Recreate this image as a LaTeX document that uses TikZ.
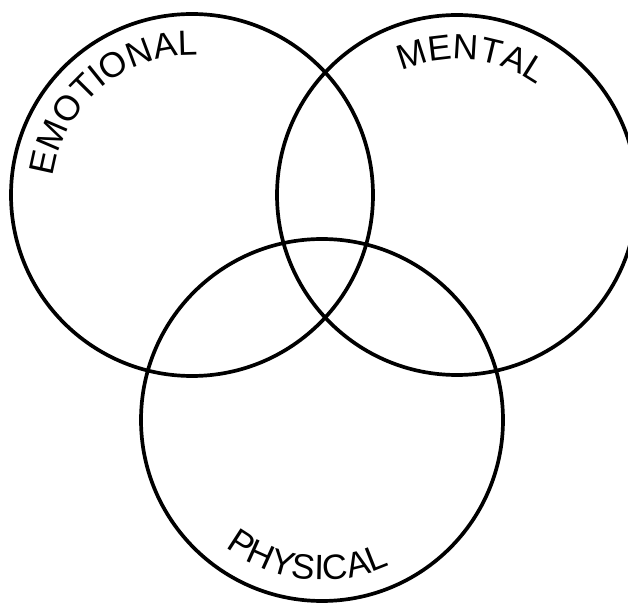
\documentclass[tikz,border=0pt]{standalone}
\usepackage{fontspec}
\setmainfont{Liberation Sans}
\usepackage{tikz}
\usetikzlibrary{decorations.text}
\tikzset{
  ring/.style={draw=black, line width=2.1pt},
  curvedlabel/.style={decorate, decoration={text along path, text align=center,
    text={|\fontsize{20}{22}\selectfont|#1}}}
}
\begin{document}
\begin{tikzpicture}[x=0.02cm, y=0.02cm]
  \useasboundingbox (0,0) rectangle (628,605);
  % circle centres
  \coordinate (emo) at (192,410);
  \coordinate (men) at (457,410);
  \coordinate (phy) at (322,185);
  \draw[ring] (emo) circle[radius=181];
  \draw[ring] (men) circle[radius=180];
  \draw[ring] (phy) circle[radius=181];
  % labels along the rims
  \path[curvedlabel=EMOTIONAL] (emo) ++(180:140) arc[start angle=180, end angle=80, radius=140];
  \path[curvedlabel=MENTAL] (men) ++(130:136) arc[start angle=130, end angle=38, radius=136];
  \path[curvedlabel=PHYSICAL] (phy) ++(218:160) arc[start angle=218, end angle=310, radius=160];
\end{tikzpicture}
\end{document}
